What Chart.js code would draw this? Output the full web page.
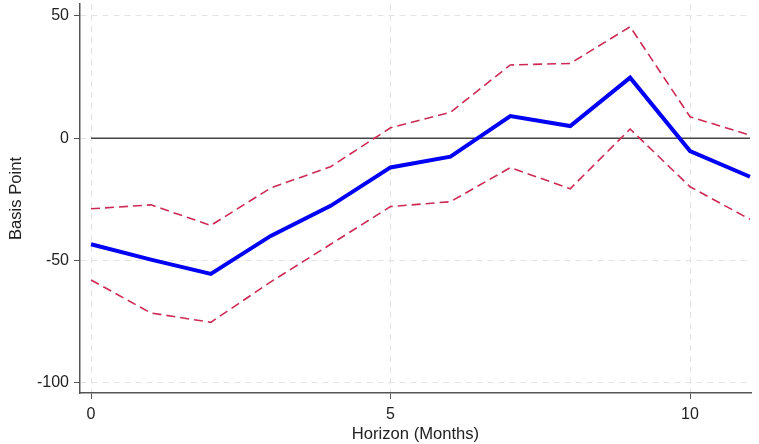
<!DOCTYPE html>
<html>
<head>
<meta charset="utf-8">
<script src="https://cdn.jsdelivr.net/npm/chart.js@4/dist/chart.umd.min.js"></script>
<style>
  html, body { margin: 0; padding: 0; background: #ffffff; }
  #wrap { width: 759px; height: 444px; }
</style>
</head>
<body>
<div id="wrap"><canvas id="irf" width="759" height="444"></canvas></div>
<script>
// Impulse response by horizon (months), in basis points
const horizons = [0, 1, 2, 3, 4, 5, 6, 7, 8, 9, 10, 11];
const estimate = [-43.3, -49.6, -55.4, -39.9, -27.6, -11.9, -7.5, 9.1, 5.0, 24.8, -5.2, -15.7];
const upperBand = [-28.8, -27.2, -35.6, -20.3, -11.6, 4.3, 10.6, 30.0, 30.6, 45.6, 8.8, 1.3];
const lowerBand = [-57.9, -71.4, -75.2, -58.7, -43.3, -27.9, -25.9, -12.0, -20.6, 3.8, -19.8, -33.1];
const zeroLine = [0, 0];
const zeroSpan = [0, 11];

const xTicks = [0, 5, 10];
const yTicks = [-100, -50, 0, 50];

const toPoints = (xs, ys) => xs.map((x, i) => ({ x: x, y: ys[i] }));

const font = { family: "'Liberation Sans', Arial, sans-serif", size: 16 };
const titleFont = { family: "'Liberation Sans', Arial, sans-serif", size: 16.6 };
const textColor = '#222222';
const axisColor = '#555555';
const gridColor = '#e4e4e4';

new Chart(document.getElementById('irf'), {
  type: 'line',
  data: {
    datasets: [
      {
        label: 'Estimate',
        data: toPoints(horizons, estimate),
        borderColor: '#0000f5',
        borderWidth: 4,
        pointRadius: 0,
        tension: 0,
        order: 0
      },
      {
        label: 'Upper',
        data: toPoints(horizons, upperBand),
        borderColor: '#cc2a55',
        borderWidth: 1.6,
        borderDash: [9, 5],
        pointRadius: 0,
        tension: 0,
        order: 1
      },
      {
        label: 'Lower',
        data: toPoints(horizons, lowerBand),
        borderColor: '#cc2a55',
        borderWidth: 1.6,
        borderDash: [9, 5],
        pointRadius: 0,
        tension: 0,
        order: 1
      },
      {
        label: 'Zero',
        data: toPoints(zeroSpan, zeroLine),
        borderColor: '#444444',
        borderWidth: 1.5,
        pointRadius: 0,
        tension: 0,
        order: 2
      }
    ]
  },
  options: {
    responsive: false,
    animation: false,
    events: [],
    layout: { padding: { left: 0, right: 8, top: 4, bottom: 0 } },
    plugins: {
      legend: { display: false },
      tooltip: { enabled: false }
    },
    scales: {
      x: {
        type: 'linear',
        min: -0.184,
        max: 11.018,
        afterBuildTicks: (scale) => { scale.ticks = xTicks.map(v => ({ value: v })); },
        afterFit: (scale) => {
          scale.height = 51;
          scale.paddingLeft = 0;
          scale.paddingRight = 0;
        },
        grid: {
          color: gridColor,
          lineWidth: 1,
          drawTicks: true,
          tickLength: 6,
          tickColor: axisColor,
          tickBorderDash: [],
          tickWidth: 1
        },
        border: { display: true, color: axisColor, width: 1.5, dash: [6, 5] },
        ticks: { color: textColor, font: font, padding: 6, maxRotation: 0 },
        title: {
          display: true,
          text: 'Horizon (Months)',
          color: textColor,
          font: titleFont,
          padding: { top: 0, bottom: 0 }
        }
      },
      y: {
        type: 'linear',
        min: -104.1,
        max: 54.9,
        afterBuildTicks: (scale) => { scale.ticks = yTicks.map(v => ({ value: v })); },
        afterFit: (scale) => {
          scale.width = 80;
          scale.paddingTop = 0;
          scale.paddingBottom = 0;
        },
        grid: {
          color: gridColor,
          lineWidth: 1,
          drawTicks: true,
          tickLength: 6,
          tickColor: axisColor,
          tickBorderDash: [],
          tickWidth: 1
        },
        border: { display: true, color: axisColor, width: 1.5, dash: [6, 5] },
        ticks: { color: textColor, font: font, padding: 5 },
        title: {
          display: true,
          text: 'Basis Point',
          color: textColor,
          font: titleFont,
          padding: { top: 6, bottom: 0 }
        }
      }
    }
  }
});
</script>
</body>
</html>
